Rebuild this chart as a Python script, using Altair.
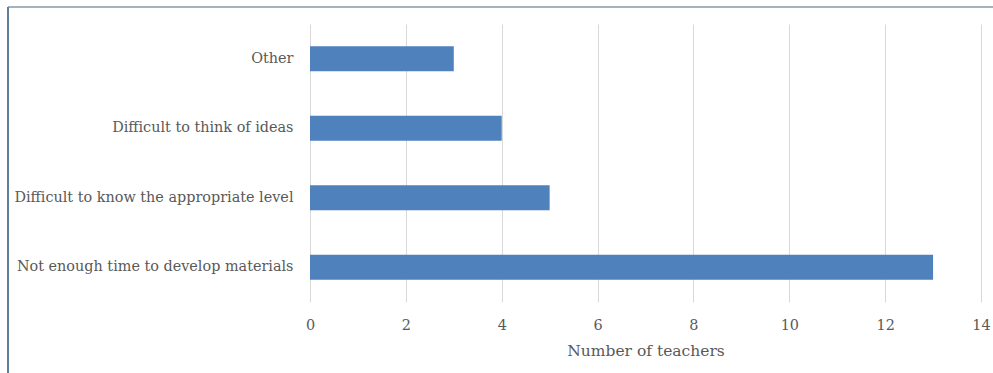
import altair as alt
import pandas as pd

categories = [
    "Other",
    "Difficult to think of ideas",
    "Difficult to know the appropriate level",
    "Not enough time to develop materials",
]
values = [3, 4, 5, 13]
x_ticks = [0, 2, 4, 6, 8, 10, 12, 14]

df = pd.DataFrame({"reason": categories, "teachers": values})

FONT = "DejaVu Serif"
GRAY = "#595959"

bars = alt.Chart(df).mark_bar(color="#4f81bd").encode(
    y=alt.Y(
        "reason:N",
        sort=categories,
        title=None,
        scale=alt.Scale(paddingInner=0.64, paddingOuter=0.32),
        axis=alt.Axis(
            domain=False, ticks=False, grid=False, labelPadding=17,
            labelFont=FONT, labelFontSize=14.4, labelColor=GRAY, labelLimit=400,
        ),
    ),
    x=alt.X(
        "teachers:Q",
        title="Number of teachers",
        scale=alt.Scale(domain=[0, 14], nice=False),
        axis=alt.Axis(
            values=x_ticks, domain=False, ticks=False, grid=True,
            gridColor="#d9d9d9", gridWidth=1, labelPadding=16, labelFlush=False,
            labelFont=FONT, labelFontSize=14.4, labelColor=GRAY,
            titleFont=FONT, titleFontSize=15.5, titleColor=GRAY,
            titleFontWeight="normal", titlePadding=12,
        ),
    ),
)

frame_top = alt.Chart(df).mark_rule(color="#a3b3bd", strokeWidth=2).encode(
    x=alt.value(-302), x2=alt.value(683), y=alt.value(-17)
)
frame_left = alt.Chart(df).mark_rule(color="#5f7f9c", strokeWidth=2).encode(
    x=alt.value(-302), y=alt.value(-17), y2=alt.value(349)
)

chart = alt.layer(bars, frame_top, frame_left).properties(
    width=671,
    height=278,
    autosize=alt.AutoSizeParams(type="none"),
    padding={"left": 310, "top": 24, "right": 12, "bottom": 71},
    background="white",
).configure_view(stroke=None)

chart.save("out.html", embed_options={"renderer": "svg", "actions": False})
